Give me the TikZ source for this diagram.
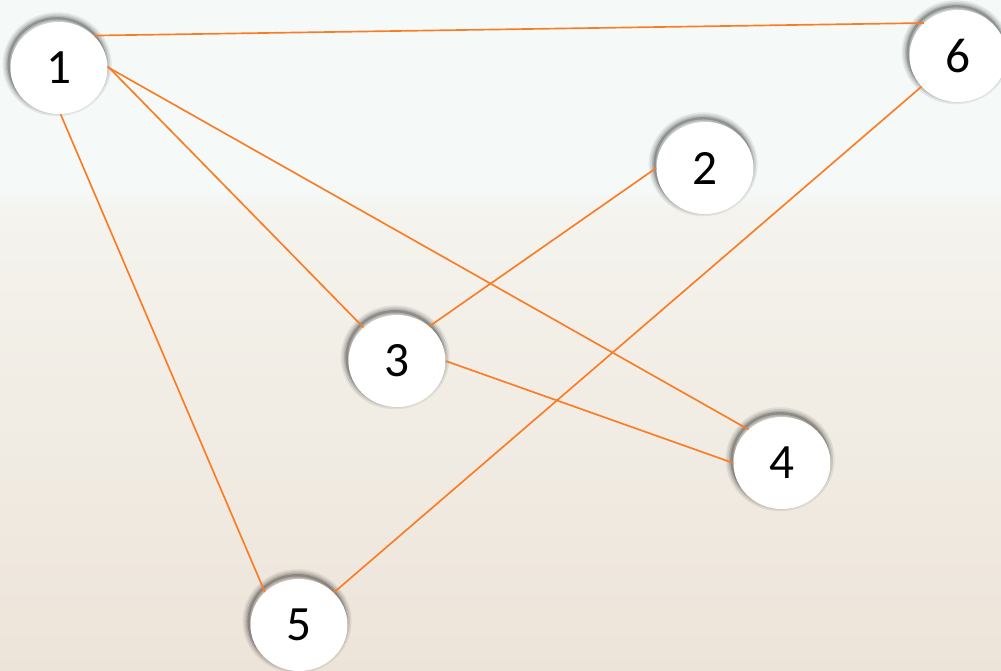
\documentclass[tikz,border=0pt]{standalone}
\usepackage{fontspec}
\setmainfont{Carlito}
\usetikzlibrary{shapes.geometric}
\definecolor{edgeorange}{RGB}{250,125,38}
\definecolor{bgtop}{RGB}{245,250,249}
\definecolor{bgmid}{RGB}{244,243,237}
\definecolor{bgbot}{RGB}{237,228,217}
% the filled path spans 25bp..75bp of the shading
\pgfdeclareverticalshading{paper}{100bp}{color(0bp)=(bgbot); color(25bp)=(bgbot); color(59bp)=(bgmid); color(61.2bp)=(bgtop); color(75bp)=(bgtop); color(100bp)=(bgtop)}
\tikzset{
  halo/.style 2 args={preaction={draw=black, line width=#1, draw opacity=#2,
      transform canvas={xshift=-1.4pt, yshift=2.8pt}}},
  vertex/.style={ellipse, fill=white, inner sep=0pt,
    minimum width=72.75pt, minimum height=69pt,
    font=\fontsize{37}{40}\selectfont,
    halo={9pt}{0.07}, halo={6.5pt}{0.09}, halo={4pt}{0.13}, halo={1.8pt}{0.2}},
  link/.style={draw=edgeorange, line width=1.25pt}
}
\begin{document}
\begin{tikzpicture}[x=0.75pt, y=-0.75pt]
  % background
  \shade[shading=paper] (0,0) rectangle (1001,671);
  \useasboundingbox (0,0) rectangle (1001,671);

  % vertices
  \node[vertex] (n1) at (59,68)   {1};
  \node[vertex] (n2) at (705,168) {2};
  \node[vertex] (n3) at (397,361) {3};
  \node[vertex] (n4) at (782,463) {4};
  \node[vertex] (n5) at (299,625) {5};
  \node[vertex] (n6) at (958,56)  {6};

  % edges, attached to the border of each vertex
  \draw[link] (n1.43)  -- (n6.136);
  \draw[link] (n1.2)   -- (n3.135);
  \draw[link] (n1.1)   -- (n4.135);
  \draw[link] (n1.272) -- (n5.136);
  \draw[link] (n2.180) -- (n3.47);
  \draw[link] (n3.0)   -- (n4.180);
  \draw[link] (n6.220) -- (n5.43);
\end{tikzpicture}
\end{document}
